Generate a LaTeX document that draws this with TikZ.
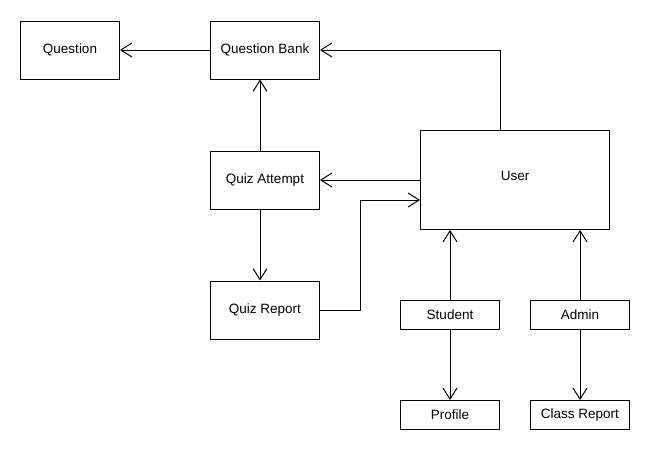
\documentclass[tikz,border=0pt]{standalone}
\usepackage{fontspec}
\setmainfont{Liberation Sans}
\usetikzlibrary{arrows.meta}
\begin{document}
\begin{tikzpicture}[x=1pt,y=-1pt,
  every node/.style={font=\fontsize{13.5}{16}\selectfont},
  box/.style={draw, line width=1pt, inner sep=0pt, minimum width=#1},
  big/.style={box=109, minimum height=58},
  small/.style={box=99, minimum height=29},
  arr/.style={line width=1pt, -{Straight Barb[length=11pt,width=14pt,line width=1pt]}}]
  \fill[white] (0,0) rectangle (650,450);
  \useasboundingbox (0,0) rectangle (650,450);

  % entities
  \node[box=99, minimum height=58] (q) at (70,50) {Question};
  \node[big] (qb) at (265,50) {Question Bank};
  \node[big] (qa) at (265,180) {Quiz Attempt};
  \node[big] (qr) at (265,310) {Quiz Report};
  \node[box=189, minimum height=99, text height=9.5pt, text depth=9pt] (user) at (515,180) {User};
  \node[small] (student) at (450,315) {Student};
  \node[small] (admin) at (580,315) {Admin};
  \node[small] (profile) at (450,415) {Profile};
  \node[small] (classrep) at (580,415) {Class Report};

  % bend points
  \coordinate (qx) at (260,0);
  \coordinate (ux) at (500,0);
  \coordinate (rbend) at (360,310);
  \coordinate (uin) at (420,200);

  % connectors
  \draw[arr] (qb.west) -- (q.east);
  \draw[arr] (qa.north -| qx) -- (qb.south -| qx);
  \draw[arr] (qa.south -| qx) -- (qr.north -| qx);
  \draw[arr] (user.north -| ux) |- (qb.east);
  \draw[arr] (user.west) -- (qa.east);
  \draw[arr] (qr.east) -- (rbend) |- (uin);
  \draw[arr] (student.north) -- (student.north |- user.south);
  \draw[arr] (admin.north) -- (admin.north |- user.south);
  \draw[arr] (student.south) -- (profile.north);
  \draw[arr] (admin.south) -- (classrep.north);
\end{tikzpicture}
\end{document}
